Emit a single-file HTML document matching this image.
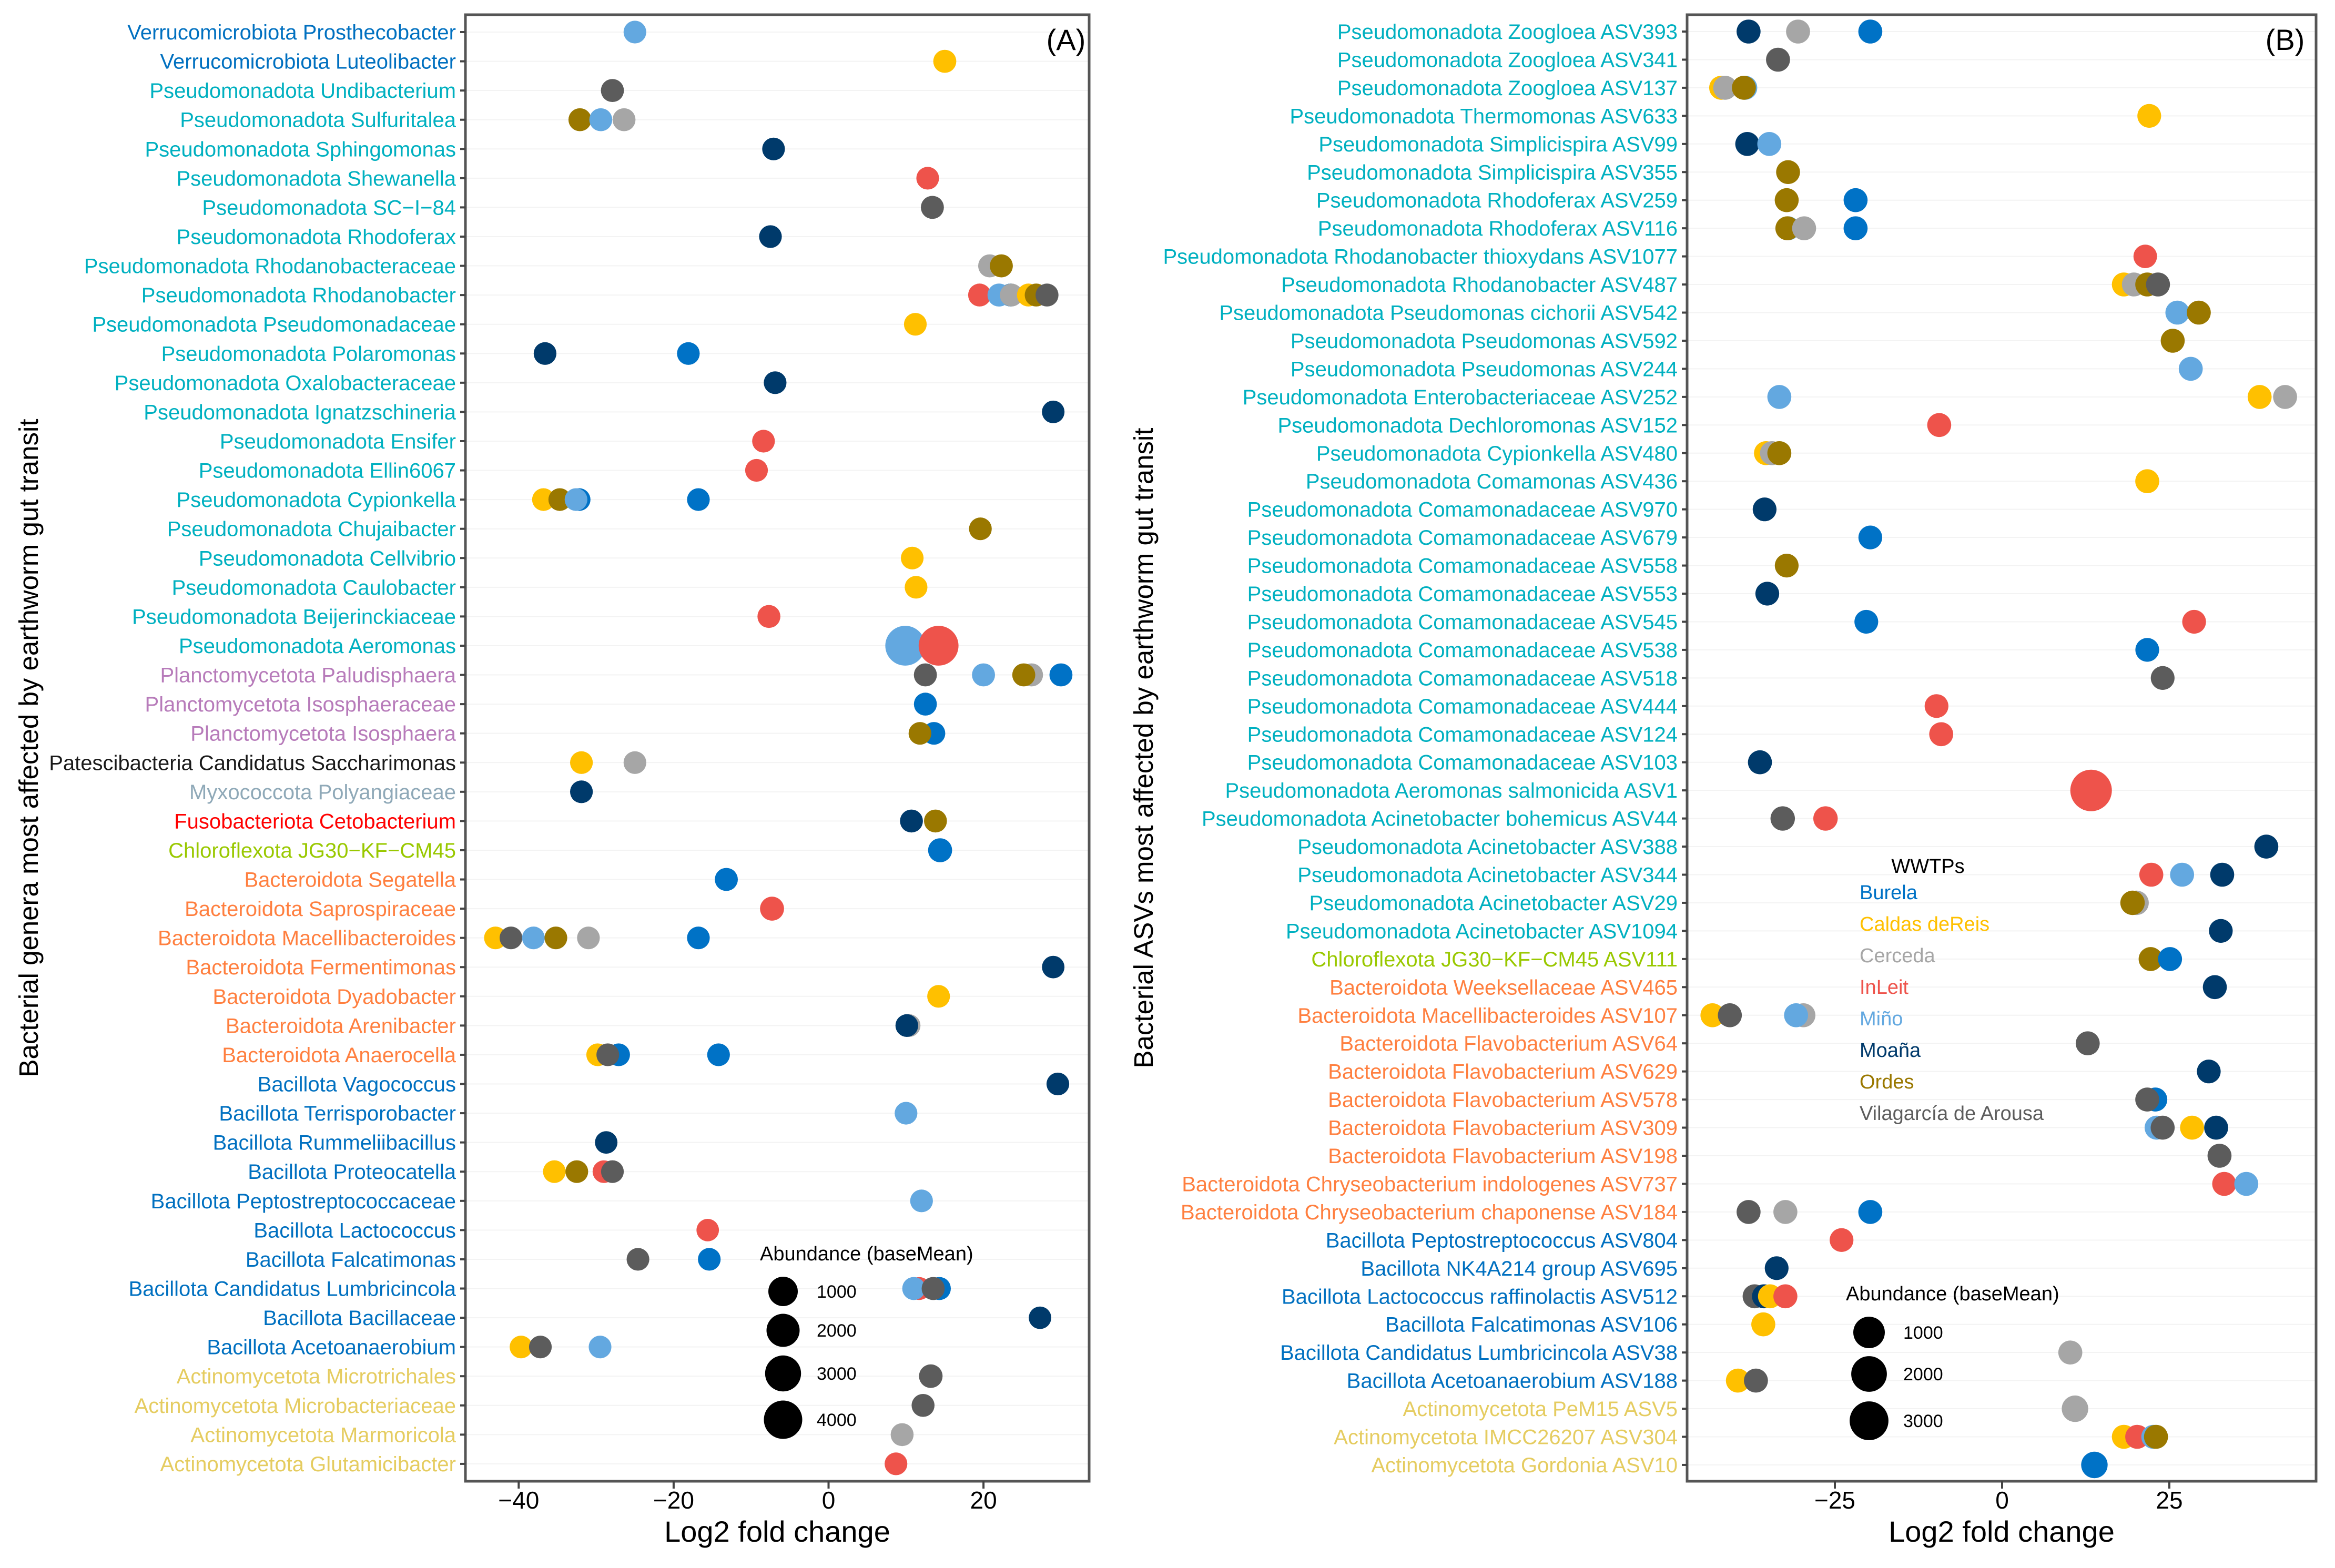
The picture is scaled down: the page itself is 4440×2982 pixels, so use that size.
<!DOCTYPE html>
<html><head><meta charset="utf-8"><title>Log2 fold change dot plots</title>
<style>html,body{margin:0;padding:0;background:#fff}svg{display:block}</style></head>
<body>
<svg id="fig" xmlns="http://www.w3.org/2000/svg" width="4440" height="2982" viewBox="0 0 4440 2982" font-family="'Liberation Sans', Arial, sans-serif">
<rect width="4440" height="2982" fill="#fff"/>
<g id="panelA"></g>
<g id="panelB"></g>
</svg>
<script>
const siteNames = ["Burela","Caldas deReis","Cerceda","InLeit","Miño","Moaña","Ordes","Vilagarcía de Arousa"];
const siteKeys = ["Bu","Ca","Ce","In","Mi","Mo","Or","Vi"];
const siteColors = {Bu:"#0072C6",Ca:"#FFC000",Ce:"#A6A6A6",In:"#EE534B",Mi:"#63A8E0",Mo:"#003A6B",Or:"#9A7800",Vi:"#5C5C5C"};
const phylumColors = {Verrucomicrobiota:"#0070C0",Pseudomonadota:"#00B0C0",Planctomycetota:"#B77BBA",Patescibacteria:"#1a1a1a",Myxococcota:"#8FA9B8",Fusobacteriota:"#FF0000",Chloroflexota:"#99C800",Bacteroidota:"#FF7F3F",Bacillota:"#0070C0",Actinomycetota:"#E5CC60"};

const labelsA = ["Verrucomicrobiota Prosthecobacter","Verrucomicrobiota Luteolibacter","Pseudomonadota Undibacterium","Pseudomonadota Sulfuritalea","Pseudomonadota Sphingomonas","Pseudomonadota Shewanella","Pseudomonadota SC\u2212I\u221284","Pseudomonadota Rhodoferax","Pseudomonadota Rhodanobacteraceae","Pseudomonadota Rhodanobacter","Pseudomonadota Pseudomonadaceae","Pseudomonadota Polaromonas","Pseudomonadota Oxalobacteraceae","Pseudomonadota Ignatzschineria","Pseudomonadota Ensifer","Pseudomonadota Ellin6067","Pseudomonadota Cypionkella","Pseudomonadota Chujaibacter","Pseudomonadota Cellvibrio","Pseudomonadota Caulobacter","Pseudomonadota Beijerinckiaceae","Pseudomonadota Aeromonas","Planctomycetota Paludisphaera","Planctomycetota Isosphaeraceae","Planctomycetota Isosphaera","Patescibacteria Candidatus Saccharimonas","Myxococcota Polyangiaceae","Fusobacteriota Cetobacterium","Chloroflexota JG30\u2212KF\u2212CM45","Bacteroidota Segatella","Bacteroidota Saprospiraceae","Bacteroidota Macellibacteroides","Bacteroidota Fermentimonas","Bacteroidota Dyadobacter","Bacteroidota Arenibacter","Bacteroidota Anaerocella","Bacillota Vagococcus","Bacillota Terrisporobacter","Bacillota Rummeliibacillus","Bacillota Proteocatella","Bacillota Peptostreptococcaceae","Bacillota Lactococcus","Bacillota Falcatimonas","Bacillota Candidatus Lumbricincola","Bacillota Bacillaceae","Bacillota Acetoanaerobium","Actinomycetota Microtrichales","Actinomycetota Microbacteriaceae","Actinomycetota Marmoricola","Actinomycetota Glutamicibacter"];
const ticksA = [-40,-20,0,20];
// [row, site, log2FC, baseMean]
const pointsA = [
[0,"Mi",-25,60],[1,"Ca",15.0,80],[2,"Vi",-27.9,80],
[3,"Or",-32.1,70],[3,"Mi",-29.4,70],[3,"Ce",-26.4,70],
[4,"Mo",-7.1,60],[5,"In",12.8,60],[6,"Vi",13.4,80],[7,"Mo",-7.5,60],
[8,"Ce",20.8,80],[8,"Or",22.3,80],
[9,"Bu",23.5,70],[9,"In",19.5,70],[9,"Mi",22.0,80],[9,"Ce",23.6,70],[9,"Ca",25.8,70],[9,"Or",26.8,70],[9,"Vi",28.2,70],
[10,"Ca",11.2,60],[11,"Mo",-36.6,60],[11,"Bu",-18.1,60],[12,"Mo",-6.9,60],[13,"Mo",29.0,55],
[14,"In",-8.4,60],[15,"In",-9.3,60],
[16,"Ca",-36.8,60],[16,"Or",-34.7,60],[16,"Bu",-32.2,60],[16,"Mi",-32.6,60],[16,"Bu",-16.8,60],
[17,"Or",19.6,60],[18,"Ca",10.8,60],[19,"Ca",11.3,60],[20,"In",-7.7,70],
[21,"Mi",9.9,4700],[21,"In",14.2,4700],
[22,"Vi",12.5,80],[22,"Mi",20.0,80],[22,"Ce",26.2,80],[22,"Or",25.2,80],[22,"Bu",30.0,80],
[23,"Bu",12.5,70],[24,"Bu",13.6,60],[24,"Or",11.8,60],
[25,"Ca",-31.9,60],[25,"Ce",-25.0,60],[26,"Mo",-31.9,60],
[27,"Mo",10.7,70],[27,"Or",13.8,70],[28,"Bu",14.4,150],[29,"Bu",-13.2,80],[30,"In",-7.3,150],
[31,"Ca",-43,60],[31,"Vi",-41,60],[31,"Mi",-38.1,60],[31,"Or",-35.2,60],[31,"Ce",-31,60],[31,"Bu",-16.8,60],
[32,"Mo",29.0,50],[33,"Ca",14.2,60],[34,"Ce",10.4,60],[34,"Mo",10.1,60],
[35,"Bu",-27.1,60],[35,"Ca",-29.8,60],[35,"Vi",-28.5,60],[35,"Bu",-14.2,60],
[36,"Mo",29.6,60],[37,"Mi",10.0,60],[38,"Mo",-28.7,50],
[39,"Ca",-35.4,60],[39,"Or",-32.5,60],[39,"In",-29,55],[39,"Vi",-27.9,60],
[40,"Mi",12.0,60],[41,"In",-15.6,50],[42,"Vi",-24.6,60],[42,"Bu",-15.4,60],
[43,"In",11.7,70],[43,"Bu",14.3,80],[43,"Mi",11.0,80],[43,"Vi",13.5,80],
[44,"Mo",27.3,50],[45,"Ca",-39.7,60],[45,"Vi",-37.2,60],[45,"Mi",-29.5,60],
[46,"Vi",13.2,120],[47,"Vi",12.2,70],[48,"Ce",9.5,70],[49,"In",8.7,60]
];

const labelsB = ["Pseudomonadota Zoogloea ASV393","Pseudomonadota Zoogloea ASV341","Pseudomonadota Zoogloea ASV137","Pseudomonadota Thermomonas ASV633","Pseudomonadota Simplicispira ASV99","Pseudomonadota Simplicispira ASV355","Pseudomonadota Rhodoferax ASV259","Pseudomonadota Rhodoferax ASV116","Pseudomonadota Rhodanobacter thioxydans ASV1077","Pseudomonadota Rhodanobacter ASV487","Pseudomonadota Pseudomonas cichorii ASV542","Pseudomonadota Pseudomonas ASV592","Pseudomonadota Pseudomonas ASV244","Pseudomonadota Enterobacteriaceae ASV252","Pseudomonadota Dechloromonas ASV152","Pseudomonadota Cypionkella ASV480","Pseudomonadota Comamonas ASV436","Pseudomonadota Comamonadaceae ASV970","Pseudomonadota Comamonadaceae ASV679","Pseudomonadota Comamonadaceae ASV558","Pseudomonadota Comamonadaceae ASV553","Pseudomonadota Comamonadaceae ASV545","Pseudomonadota Comamonadaceae ASV538","Pseudomonadota Comamonadaceae ASV518","Pseudomonadota Comamonadaceae ASV444","Pseudomonadota Comamonadaceae ASV124","Pseudomonadota Comamonadaceae ASV103","Pseudomonadota Aeromonas salmonicida ASV1","Pseudomonadota Acinetobacter bohemicus ASV44","Pseudomonadota Acinetobacter ASV388","Pseudomonadota Acinetobacter ASV344","Pseudomonadota Acinetobacter ASV29","Pseudomonadota Acinetobacter ASV1094","Chloroflexota JG30\u2212KF\u2212CM45 ASV111","Bacteroidota Weeksellaceae ASV465","Bacteroidota Macellibacteroides ASV107","Bacteroidota Flavobacterium ASV64","Bacteroidota Flavobacterium ASV629","Bacteroidota Flavobacterium ASV578","Bacteroidota Flavobacterium ASV309","Bacteroidota Flavobacterium ASV198","Bacteroidota Chryseobacterium indologenes ASV737","Bacteroidota Chryseobacterium chaponense ASV184","Bacillota Peptostreptococcus ASV804","Bacillota NK4A214 group ASV695","Bacillota Lactococcus raffinolactis ASV512","Bacillota Falcatimonas ASV106","Bacillota Candidatus Lumbricincola ASV38","Bacillota Acetoanaerobium ASV188","Actinomycetota PeM15 ASV5","Actinomycetota IMCC26207 ASV304","Actinomycetota Gordonia ASV10"];
const ticksB = [-25,0,25];
const pointsB = [
[0,"Mo",-37.9,60],[0,"Ce",-30.5,60],[0,"Bu",-19.7,60],
[1,"Vi",-33.5,60],
[2,"Ca",-42,60],[2,"Ce",-41.4,60],[2,"Mi",-38.4,60],[2,"Or",-38.6,60],
[3,"Ca",22.0,50],[4,"Mo",-38.1,60],[4,"Mi",-34.8,60],[5,"Or",-32,55],
[6,"Or",-32.2,60],[6,"Bu",-21.9,60],
[7,"Mi",-32.0,60],[7,"Or",-32.1,60],[7,"Ce",-29.6,60],[7,"Bu",-21.9,60],
[8,"In",21.4,40],
[9,"Ca",18.2,60],[9,"Ce",19.7,60],[9,"Or",21.7,60],[9,"Vi",23.3,60],
[10,"Mi",26.2,60],[10,"Or",29.4,60],[11,"Or",25.5,60],[12,"Mi",28.2,60],
[13,"Mi",-33.3,60],[13,"Ca",38.5,60],[13,"Ce",42.3,60],
[14,"In",-9.4,60],
[15,"Ca",-35.3,60],[15,"Ce",-34.4,60],[15,"Or",-33.3,60],
[16,"Ca",21.7,60],[17,"Mo",-35.5,50],[18,"Bu",-19.7,50],[19,"Or",-32.2,50],[20,"Mo",-35.1,50],
[21,"Bu",-20.3,50],[21,"In",28.7,50],[22,"Bu",21.7,50],[23,"Vi",24.0,50],
[24,"In",-9.8,50],[25,"In",-9.1,60],[26,"Mo",-36.2,60],
[27,"In",13.3,4000],
[28,"Vi",-32.8,80],[28,"In",-26.4,80],
[29,"Mo",39.5,60],
[30,"In",22.3,60],[30,"Mi",26.9,60],[30,"Mo",32.9,60],
[31,"Ce",20.1,80],[31,"Or",19.5,80],
[32,"Mo",32.7,50],
[33,"Or",22.2,60],[33,"Bu",25.1,60],
[34,"Mo",31.8,60],
[35,"Ca",-43.3,60],[35,"Vi",-40.7,60],[35,"Ce",-29.7,60],[35,"Mi",-30.8,60],
[36,"Vi",12.8,60],[37,"Mo",30.9,50],
[38,"Bu",22.9,60],[38,"Vi",21.7,60],
[39,"Mi",23.1,60],[39,"Vi",24.0,60],[39,"Ca",28.4,60],[39,"Mo",32.0,60],
[40,"Vi",32.5,60],
[41,"In",33.2,60],[41,"Mi",36.5,60],
[42,"Vi",-37.9,60],[42,"Ce",-32.4,60],[42,"Bu",-19.7,60],
[43,"In",-24,50],[44,"Mo",-33.7,50],
[45,"Vi",-37,60],[45,"Mo",-35.6,60],[45,"Ca",-34.7,60],[45,"In",-32.4,60],
[46,"Ca",-35.7,60],[47,"Ce",10.2,60],
[48,"Ca",-39.5,60],[48,"Vi",-36.8,60],
[49,"Ce",10.9,250],
[50,"Ca",18.2,60],[50,"In",20.2,60],[50,"Mi",22.6,60],[50,"Or",23.0,60],
[51,"Bu",13.8,250]
];
const sizeLegendA = [1000,2000,3000,4000];
const sizeLegendB = [1000,2000,3000];

const NS = "http://www.w3.org/2000/svg";
function mk(parent, tag, attrs, text){
  const e = document.createElementNS(NS, tag);
  for (const k in attrs) e.setAttribute(k, attrs[k]);
  if (text !== undefined) e.textContent = text;
  parent.appendChild(e);
  return e;
}

function drawPanel(g, cfg){
  const {L,R,T,B,x0,pxPerUnit,row0,rowStep,labels,ticks,points,rA,rB,yTitle,tag,tagX,titleX} = cfg;
  const xs = v => x0 + v*pxPerUnit;
  const ys = i => row0 + i*rowStep;
  const rs = v => rB + rA*Math.sqrt(v);
  labels.forEach((lab,i)=>{
    const gl = mk(g,"line",{x1:L,x2:R,y1:ys(i),y2:ys(i),stroke:"#f3f3f3","stroke-width":2});
    
    
  });
  points.forEach(p=>{
    const c = mk(g,"circle",{cx:xs(p[2]).toFixed(1),cy:ys(p[0]).toFixed(1),r:rs(p[3]).toFixed(1),fill:siteColors[p[1]]});
    
    
  });
  const fr = mk(g,"rect",{x:L,y:T,width:R-L,height:B-T,fill:"none",stroke:"#555","stroke-width":5});
  
  
  labels.forEach((lab,i)=>{
    const tk = mk(g,"line",{x1:L-10,x2:L,y1:ys(i),y2:ys(i),stroke:"#444","stroke-width":4});
    
    
    const ph = lab.split(" ")[0];
    const t = mk(g,"text",{x:L-18,y:ys(i)+14,"text-anchor":"end","font-size":40,fill:phylumColors[ph]||"#000"},lab);
    
    
  });
  ticks.forEach(v=>{
    const tk = mk(g,"line",{x1:xs(v),x2:xs(v),y1:B,y2:B+14,stroke:"#444","stroke-width":4});
    
    
    const t = mk(g,"text",{x:xs(v),y:B+52,"text-anchor":"middle","font-size":46,fill:"#000"},v<0?"\u2212"+Math.abs(v):String(v));
    
    
  });
  const xt = mk(g,"text",{x:(L+R)/2,y:2932,"text-anchor":"middle","font-size":56,fill:"#000"},"Log2 fold change");
  
  
  const yt = mk(g,"text",{x:0,y:0,"text-anchor":"middle","font-size":51,fill:"#000",transform:`translate(${titleX},${(T+B)/2}) rotate(-90)`},yTitle);
  
  
  const tg = mk(g,"text",{x:tagX,y:95,"text-anchor":"middle","font-size":56,fill:"#000"},tag);
  
  
  return rs;
}

const gA = document.getElementById("panelA");
const rsA = drawPanel(gA,{L:885,R:2071,T:28,B:2817,x0:1575.5,pxPerUnit:14.73,row0:61,rowStep:55.57,labels:labelsA,ticks:ticksA,points:pointsA,rA:0.269,rB:19.5,yTitle:"Bacterial genera most affected by earthworm gut transit",tag:"(A)",tagX:2027,titleX:72});
const gB = document.getElementById("panelB");
const rsB = drawPanel(gB,{L:3208,R:4404,T:28,B:2817,x0:3807,pxPerUnit:12.72,row0:60,rowStep:53.45,labels:labelsB,ticks:ticksB,points:pointsB,rA:0.30,rB:20.5,yTitle:"Bacterial ASVs most affected by earthworm gut transit",tag:"(B)",tagX:4345,titleX:2192});

const slA = mk(gA,"g",{});


mk(slA,"text",{x:1445,y:2397,"font-size":38,fill:"#000"},"Abundance (baseMean)");
const slAy = [2456,2530,2612,2700];
sizeLegendA.forEach((v,i)=>{
  const c = mk(slA,"circle",{cx:1489,cy:slAy[i],r:rsA(v).toFixed(1),fill:"#000"});
  
  
  mk(slA,"text",{x:1553,y:slAy[i]+12,"font-size":34,fill:"#000"},String(v));
});
const slB = mk(gB,"g",{});


mk(slB,"text",{x:3510,y:2473,"font-size":38,fill:"#000"},"Abundance (baseMean)");
const slBy = [2534,2613,2702];
sizeLegendB.forEach((v,i)=>{
  const c = mk(slB,"circle",{cx:3554,cy:slBy[i],r:rsB(v).toFixed(1),fill:"#000"});
  
  
  mk(slB,"text",{x:3619,y:slBy[i]+12,"font-size":34,fill:"#000"},String(v));
});
const cl = mk(gB,"g",{});


mk(cl,"text",{x:3666,y:1660,"text-anchor":"middle","font-size":38,fill:"#000"},"WWTPs");
siteKeys.forEach((k,i)=>{
  const t = mk(cl,"text",{x:3536,y:1697+i*60+13,"font-size":38,fill:siteColors[k]},siteNames[i]);
  
  
});
</script>
</body></html>
